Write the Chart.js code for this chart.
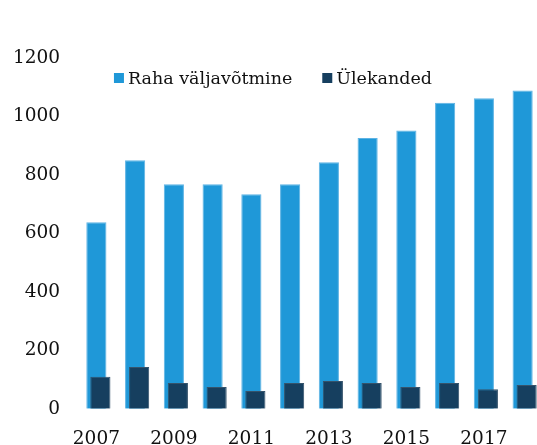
<!DOCTYPE html>
<html>
<head>
<meta charset="utf-8">
<script src="https://cdn.jsdelivr.net/npm/chart.js@4"></script>
<style>
    html, body { margin: 0; padding: 0; background: #fff; overflow: hidden; }
    #wrap { width: 546px; height: 445px; }
</style>
</head>
<body>
<div id="wrap"><canvas id="chart"></canvas></div>
<script>
// Data
const years = ['2007', '2008', '2009', '2010', '2011', '2012', '2013', '2014', '2015', '2016', '2017', '2018'];
const withdrawals = [638, 850, 768, 768, 734, 768, 843, 926, 952, 1047, 1062, 1089];
const transfers = [110, 143, 88, 75, 61, 88, 95, 88, 75, 88, 67, 81];
const seriesNames = ['Raha väljavõtmine', 'Ülekanded'];
const yTicks = [0, 200, 400, 600, 800, 1000, 1200];

const fontFamily = '"DejaVu Serif", "Liberation Serif", serif';

// Shift the dark bars a few pixels right so they sit in front of the light ones
const shiftPlugin = {
    id: 'shiftBars',
    beforeDatasetDraw(chart, args) {
        if (args.index === 1) {
            chart.ctx.save();
            chart.ctx.translate(4, 0);
        }
    },
    afterDatasetDraw(chart, args) {
        if (args.index === 1) chart.ctx.restore();
    }
};

// Legend drawn inside the plot, near the top
const legendPlugin = {
    id: 'innerLegend',
    afterDraw(chart) {
        const ctx = chart.ctx;
        ctx.save();
        ctx.font = '17.5px ' + fontFamily;
        ctx.textBaseline = 'middle';
        const box = 10, gapText = 4, gapItem = 30;
        const widths = chart.data.datasets.map(ds => ctx.measureText(ds.label).width);
        let total = widths.reduce((a, w) => a + box + gapText + w, 0) + gapItem * (widths.length - 1);
        let x = chart.width / 2 - total / 2;
        const y = 78;
        chart.data.datasets.forEach((ds, i) => {
            ctx.fillStyle = ds.backgroundColor;
            ctx.fillRect(x, y - box / 2, box, box);
            ctx.fillStyle = '#111';
            ctx.fillText(ds.label, x + box + gapText, y + 1);
            x += box + gapText + widths[i] + gapItem;
        });
        ctx.restore();
    }
};

const ctx = document.getElementById('chart').getContext('2d');
new Chart(ctx, {
    type: 'bar',
    data: {
        labels: years,
        datasets: [{
            label: seriesNames[0],
            data: withdrawals,
            backgroundColor: '#1F98D8',
            borderColor: '#5DB3E4',
            borderWidth: 1,
            order: 2
        }, {
            label: seriesNames[1],
            data: transfers,
            backgroundColor: '#163F5F',
            borderColor: '#35536B',
            borderWidth: 1,
            order: 1
        }]
    },
    options: {
        responsive: true,
        maintainAspectRatio: false,
        animation: false,
        layout: { padding: { top: 58, right: 4, bottom: -24, left: 0 } },
        datasets: {
            bar: { grouped: false, categoryPercentage: 1, barPercentage: 0.52 }
        },
        plugins: {
            legend: { display: false },
            tooltip: { enabled: false }
        },
        scales: {
            x: {
                grid: { display: false, drawTicks: false },
                border: { display: false },
                ticks: {
                    autoSkip: false,
                    maxRotation: 0,
                    padding: 19,
                    color: '#111',
                    font: { family: fontFamily, size: 18.5 },
                    callback: (v, i) => (i % 2 === 0 ? years[i] : '')
                }
            },
            y: {
                min: 0,
                max: 1200,
                grid: { display: false, drawTicks: false },
                border: { display: false },
                afterBuildTicks: scale => { scale.ticks = yTicks.map(v => ({ value: v })); },
                afterFit: scale => { scale.width = 77; },
                ticks: {
                    padding: 17,
                    color: '#111',
                    font: { family: fontFamily, size: 18.5 },
                    callback: v => String(v)
                }
            }
        }
    },
    plugins: [shiftPlugin, legendPlugin]
});
</script>
</body>
</html>
